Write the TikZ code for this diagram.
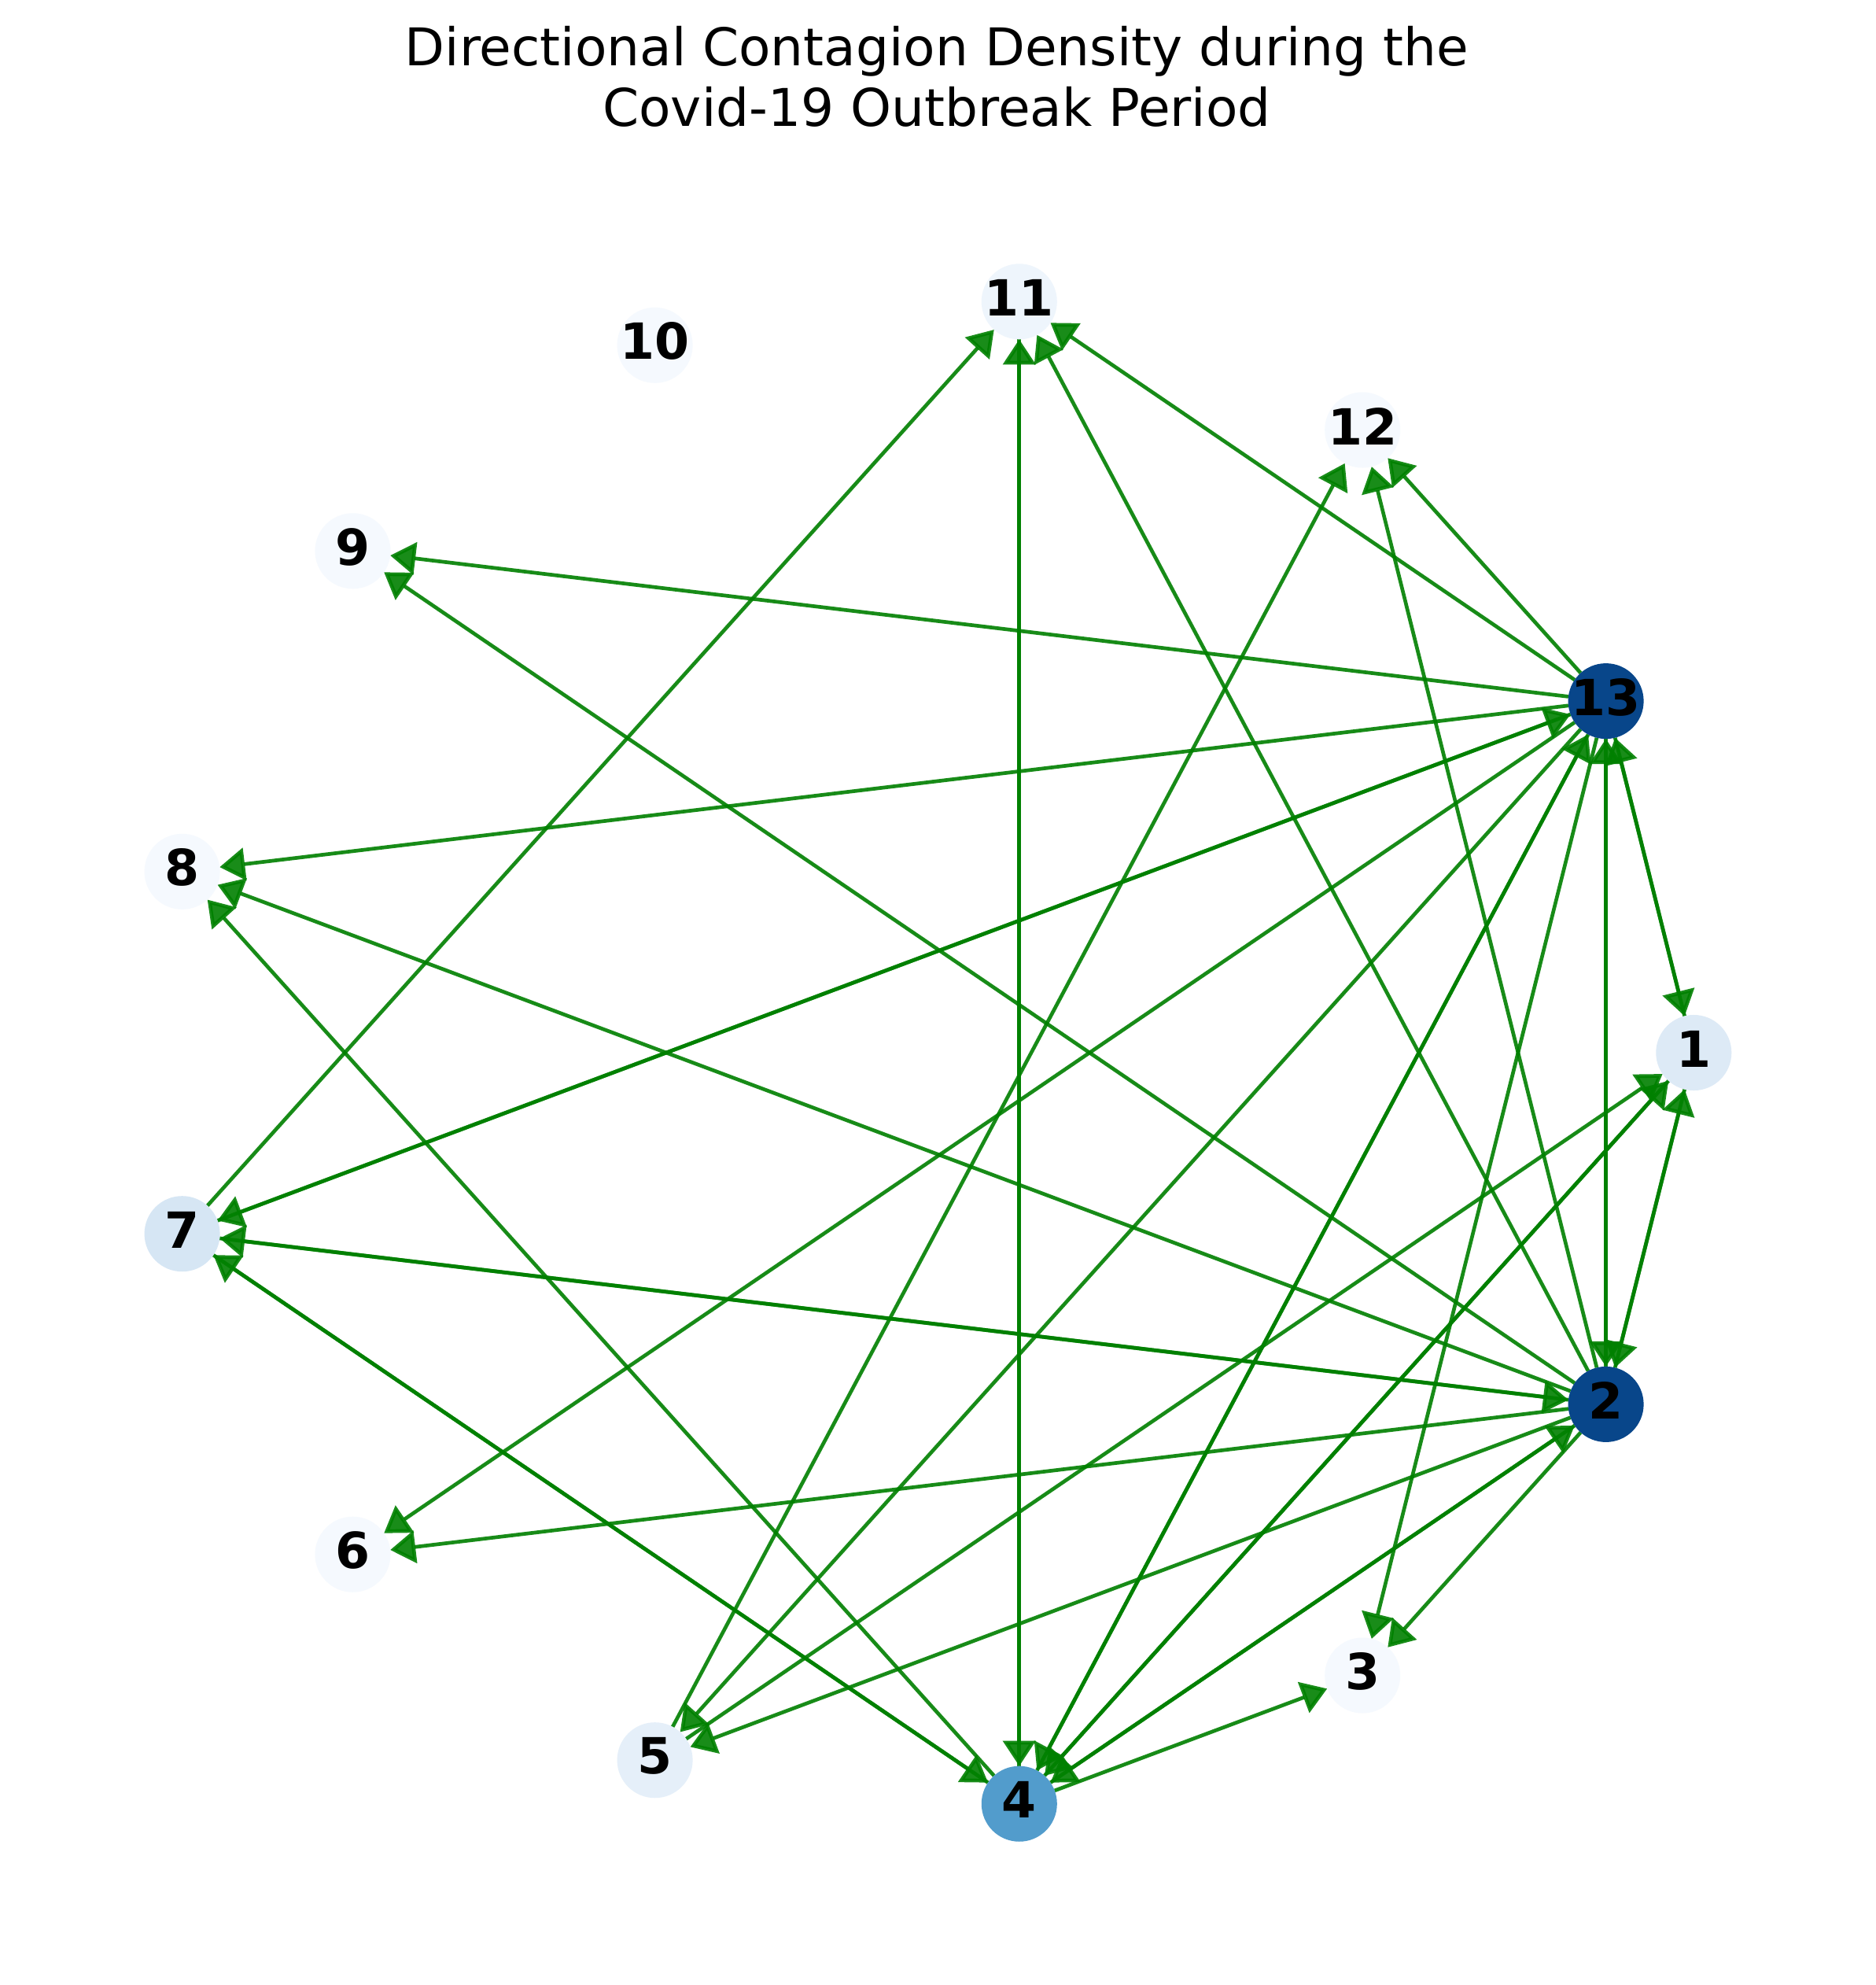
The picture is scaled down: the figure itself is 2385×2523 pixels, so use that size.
\documentclass[tikz,border=0pt]{standalone}
\usepackage{fontspec}
\setmainfont{DejaVu Sans}
\usetikzlibrary{arrows.meta}
\pgfdeclarelayer{bg}
\pgfdeclarelayer{edges}
\pgfsetlayers{bg,edges,main}
\definecolor{cdark}{RGB}{8,70,138}
\definecolor{cmid}{RGB}{82,156,204}
\definecolor{cseven}{RGB}{214,230,244}
\definecolor{cone}{RGB}{221,234,246}
\definecolor{cfive}{RGB}{229,239,249}
\definecolor{celeven}{RGB}{238,245,252}
\definecolor{cpale}{RGB}{245,249,254}
\definecolor{edgegreen}{RGB}{0,128,0}
\begin{document}
\begin{tikzpicture}[x=0.01cm,y=-0.01cm,
  vert/.style={circle, minimum size=0.96cm, inner sep=0pt, outer sep=0pt, fill=#1},
  lab/.style={font=\fontsize{18}{18}\selectfont\bfseries, text=black, yshift=1.4pt, inner sep=0pt},
  conn/.style={draw=edgegreen, fill=edgegreen, opacity=0.9, line width=0.047cm,
    -{Triangle[length=0.32cm,width=0.41cm]}},
  titletext/.style={font=\fontsize{18.8}{22}\selectfont, anchor=base, inner sep=0pt, text=black},
]
\useasboundingbox (0,0) rectangle (2385,2523);
\begin{pgfonlayer}{bg}
\fill[white] (0,0) rectangle (2385,2523);
\end{pgfonlayer}

\node[titletext] (t1) at (1191,83) {Directional Contagion Density during the};
\node[titletext] (t2) at (1191,160) {Covid-19 Outbreak Period};

\node[vert=cone,    label={[lab]center:1}]  (n1)  at (2153.3,1338.0) {};
\node[vert=cdark,   label={[lab]center:2}]  (n2)  at (2041.6,1784.9) {};
\node[vert=cpale,   label={[lab]center:3}]  (n3)  at (1732.2,2129.5) {};
\node[vert=cmid,    label={[lab]center:4}]  (n4)  at (1295.8,2292.7) {};
\node[vert=cfive,   label={[lab]center:5}]  (n5)  at (832.6,2237.2) {};
\node[vert=cpale,   label={[lab]center:6}]  (n6)  at (448.5,1975.7) {};
\node[vert=cseven,  label={[lab]center:7}]  (n7)  at (231.6,1568.2) {};
\node[vert=cpale,   label={[lab]center:8}]  (n8)  at (231.6,1107.8) {};
\node[vert=cpale,   label={[lab]center:9}]  (n9)  at (448.5,700.3) {};
\node[vert=cpale,   label={[lab]center:10}] (n10) at (832.6,438.8) {};
\node[vert=celeven, label={[lab]center:11}] (n11) at (1295.8,383.3) {};
\node[vert=cpale,   label={[lab]center:12}] (n12) at (1732.2,546.5) {};
\node[vert=cdark,   label={[lab]center:13}] (n13) at (2041.6,891.1) {};

\begin{pgfonlayer}{edges}
\foreach \a/\b in {13/1,13/2,13/3,13/4,13/5,13/6,13/7,13/8,13/9,13/11,13/12,
                   2/1,2/3,2/4,2/5,2/6,2/7,2/8,2/9,2/11,2/12,2/13,
                   4/1,4/2,4/3,4/7,4/8,4/11,4/13,
                   1/2,1/4,1/13,
                   7/2,7/4,7/11,7/13,
                   5/1,5/12,
                   11/4}
  \draw[conn] (n\a) -- (n\b);
\end{pgfonlayer}
\end{tikzpicture}
\end{document}
